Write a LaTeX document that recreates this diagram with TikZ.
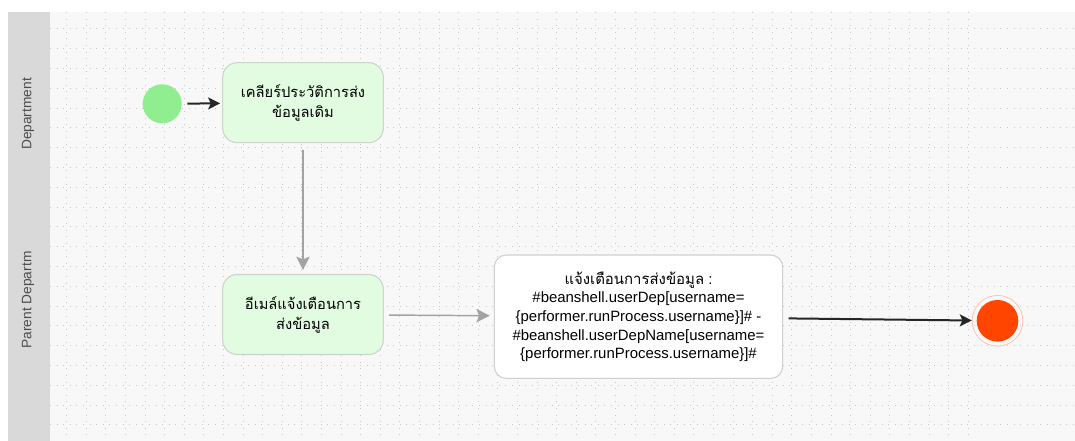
\documentclass[tikz,border=0pt]{standalone}
\usepackage{fontspec}
\setmainfont{Liberation Sans}
\newfontfamily\thaifont[Script=Thai]{Loma}
\usetikzlibrary{arrows.meta}
\definecolor{poolbg}{HTML}{F8F8F8}
\definecolor{lanehead}{HTML}{D9D9D9}
\definecolor{griddot}{HTML}{C8C8C8}
\definecolor{taskfill}{HTML}{E1FCE1}
\definecolor{taskline}{HTML}{C9D6C9}
\definecolor{mailline}{HTML}{CFCFCF}
\definecolor{startfill}{HTML}{90EE90}
\definecolor{endfill}{HTML}{FF4500}
\definecolor{endring}{HTML}{FFC2B0}
\definecolor{flowgray}{HTML}{A3A3A3}
\tikzstyle{gridline}=[griddot, line width=0.75pt, dash pattern=on 0.75pt off 4.2pt]
\tikzstyle{lanelabel}=[rotate=90, text=black!70, font=\fontsize{10.3}{12}\selectfont]
\tikzstyle{task}=[draw=taskline, fill=taskfill, line width=0.8pt, rounded corners=11pt,
  minimum width=120.5pt, minimum height=60pt, align=center,
  font=\thaifont\fontsize{11}{15}\selectfont]
\tikzstyle{mailtask}=[task, draw=mailline, fill=white, rounded corners=9pt,
  minimum width=216.3pt, minimum height=92.5pt, font=\fontsize{11.2}{14}\selectfont]
\tikzstyle{flowblack}=[-{Stealth[length=9pt, width=9pt, inset=2pt]}, line width=1.5pt, black!85]
\tikzstyle{flowgrey}=[-{Stealth[length=10pt, width=10pt, inset=2pt]}, line width=1.1pt, flowgray]

\begin{document}
\begin{tikzpicture}[x=0.75pt, y=-0.75pt]
\useasboundingbox (0,0) rectangle (1075,441);
% Pool and lanes
    \fill[poolbg] (8,12) rectangle (1075,441);
    \foreach \gx in {0,...,46}
        \draw[gridline] ({66.7+19.6*\gx},12) -- ({66.7+19.6*\gx},441);
    \foreach \gy in {0,...,20}
        \draw[gridline] (50,{29+19.79*\gy}) -- (1075,{29+19.79*\gy});
    \fill[lanehead] (8,12) rectangle (50,441);
    \node[lanelabel] (deplane) at (28,114) {Department};
    \node[lanelabel] (parentlane) at (28,300) {Parent Departm};
% Events
    \node[circle, fill=startfill, minimum size=29.3pt, inner sep=0pt] (start) at (162.2,103.8) {};
    \node[circle, fill=endfill, minimum size=31.2pt, inner sep=0pt] (end) at (997.5,320.8) {};
    \draw[endring, line width=0.6pt] (end.center) circle[radius=19pt];
% Activities
    \node[task] (clear) at (303,102.7) {เคลียร์ประวัติการส่ง\\ข้อมูลเดิม};
    \node[task] (mail) at (303,314.5) {อีเมล์แจ้งเตือนการ\\ส่งข้อมูล};
    \node[mailtask] (notify) at (638.5,316.7)
        {{\thaifont แจ้งเตือนการส่งข้อมูล} :\\
         \#beanshell.userDep[username=\\
         \{performer.runProcess.username\}]\# -\\
         \#beanshell.userDepName[username=\\
         \{performer.runProcess.username\}]\#};
% Flows
    \draw[flowblack, shorten <=4pt, shorten >=1.5pt] (start) -- (clear);
    \draw[flowgrey, shorten <=5pt, shorten >=3pt] (clear) -- (mail);
    \draw[flowgrey, shorten <=4pt, shorten >=3pt] (mail) -- (notify);
    \draw[flowblack, shorten <=4pt, shorten >=3.5pt] (notify) -- (end);
\end{tikzpicture}
\end{document}
